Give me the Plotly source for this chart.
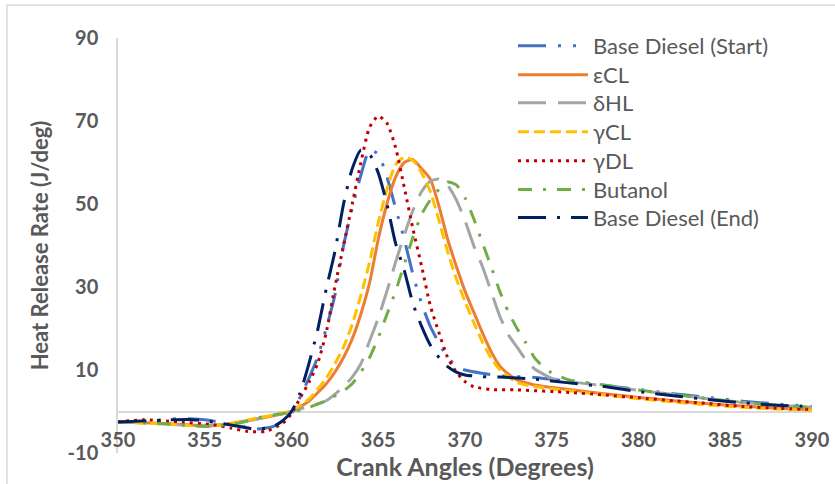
import plotly.graph_objects as go

# ---------------- data ----------------
bds_x = [350, 352, 353.5, 355, 356.5, 358, 359, 360, 360.5, 361, 361.5, 362, 362.5, 363, 363.5, 364, 364.5, 365,
         365.5, 366, 366.5, 367, 367.5, 368, 368.5, 369, 369.5, 370, 371, 372, 374, 376, 378, 380, 382, 384, 386, 388, 390]
bds_y = [-2.5, -2.2, -1.7, -2.0, -3.0, -4.2, -3.5, -0.5, 3.5, 8, 13, 20, 28, 40, 49, 57, 63, 62,
         56.5, 49, 41.5, 33, 26, 20.5, 16.5, 13, 11, 10, 9.2, 8.6, 8.2, 7.3, 6.3, 5.3, 4.3, 3.4, 2.5, 1.8, 1.2]

ecl_x = [350, 352, 354, 355, 356, 357, 358, 359, 360, 361, 362, 362.5, 363, 363.5, 364, 364.5, 365, 365.5, 366,
         366.5, 367, 367.5, 368, 368.5, 369, 369.5, 370, 370.5, 371, 371.5, 372, 372.5, 373, 374, 375, 376, 378, 380,
         382, 384, 386, 388, 390]
ecl_y = [-2.5, -2.8, -3.2, -3.5, -3.2, -2.5, -1.8, -1.0, 0, 2.5, 6.7, 9.5, 13, 17.5, 23.5, 31, 41.5, 50, 56.5,
         60, 60.7, 58.5, 56, 49.5, 41.5, 35, 29, 24, 19, 14.5, 11, 9, 7.6, 6.4, 5.8, 5.3, 4.3, 3.4, 2.6, 1.9,
         1.3, 0.8, 0.4]

dhl_x = [350, 352, 354, 356, 357, 358, 359, 360, 361, 362, 363, 363.5, 364, 364.5, 365, 365.5, 366, 366.5, 367,
         367.5, 368, 368.5, 369, 369.5, 370, 370.5, 371, 371.5, 372, 372.5, 373, 373.5, 374, 375, 376, 378, 380,
         382, 384, 386, 388, 390]
dhl_y = [-2.5, -2.8, -3.3, -3.2, -2.6, -1.8, -0.9, 0, 1.2, 2.6, 6, 8.3, 11.5, 17, 22.5, 29, 36, 42.5, 48.5,
         53, 55.5, 56, 54.5, 51, 46, 40, 35, 29, 23, 18.5, 15.5, 12.5, 10.3, 8, 7.2, 6.2, 5.1,
         4.1, 3.1, 2.2, 1.5, 1.0]

gcl_x = [350, 352, 354, 355, 356, 357, 358, 359, 360, 361, 362, 362.5, 363, 363.5, 364, 364.5, 365, 365.5, 366,
         366.5, 367, 367.5, 368, 368.5, 369, 369.5, 370, 370.5, 371, 371.5, 372, 373, 374, 375, 376, 378, 380,
         382, 384, 386, 388, 390]
gcl_y = [-2.5, -2.9, -3.3, -3.6, -3.2, -2.5, -1.6, -0.8, 0.3, 3, 8, 11.5, 15.5, 21, 28, 36, 45.5, 53.5, 59.5,
         61.3, 60.5, 57.5, 53, 46, 38.5, 32, 26.5, 21.5, 16.8, 12.9, 10.1, 7.0, 6.0, 5.5, 5.0, 4.0, 3.1,
         2.3, 1.6, 1.0, 0.6, 0.3]

gdl_x = [350, 351.5, 353.5, 355.5, 356.5, 357.5, 358.5, 359.5, 360, 360.5, 361, 361.5, 362, 362.5, 363, 363.5, 364,
         364.5, 365, 365.5, 366, 366.5, 367, 367.5, 368, 368.5, 369, 369.5, 370, 370.5, 371.5, 373, 376, 378, 380,
         382, 384, 386, 388, 390]
gdl_y = [-2.5, -2.0, -2.5, -3.2, -4.0, -4.8, -4.8, -2.8, -0.5, 3.3, 7, 11.5, 19, 30, 40, 50, 60,
         68.5, 71.2, 69.5, 63.6, 54, 44, 35, 25.5, 19, 13, 9.5, 7.2, 6.0, 5.3, 5.2, 4.6, 4.0, 3.3,
         2.6, 1.9, 1.2, 0.8, 0.5]

but_x = [350, 352, 353, 355, 357, 358, 359, 360, 361, 362, 363, 363.5, 364, 364.5, 365, 365.5, 366, 366.5, 367,
         367.5, 368, 368.5, 369, 369.5, 370, 370.5, 371, 371.5, 372, 372.5, 373, 373.5, 374, 374.5, 375, 376, 378,
         380, 382, 384, 386, 388, 390]
but_y = [-2.5, -2.8, -3.0, -3.6, -2.8, -1.6, -0.8, -0.2, 1.0, 2.6, 5.0, 6.7, 9.5, 13, 17.8, 23.4, 29, 35.5, 42,
         47.5, 51, 53.5, 55.3, 54.6, 51.5, 46.5, 40.7, 35, 29, 24, 20, 16.6, 13, 10.8, 9.3, 7.6, 6.4,
         5.2, 4.1, 3.1, 2.2, 1.5, 1.0]

bde_x = [350, 352, 353, 354, 355, 356, 357, 358, 359, 359.5, 360, 360.5, 361, 361.5, 362, 362.5, 363, 363.5, 364,
         364.5, 365, 365.5, 366, 366.5, 367, 367.5, 368, 368.5, 369, 369.5, 370, 371, 372, 374, 376, 378, 380, 382,
         384, 386, 388, 390]
bde_y = [-2.5, -2.2, -2.0, -1.9, -2.2, -2.9, -3.6, -4.3, -3.5, -2.2, 0, 4.5, 11.5, 19.5, 29.5, 38.5, 50, 58.5, 63,
         62, 57.5, 50, 40.5, 34, 26, 20.5, 16, 13, 10.8, 9.5, 8.8, 8.4, 8.3, 7.8, 6.9, 6.0, 4.8, 3.8,
         2.9, 2.1, 1.5, 1.2]

series_names = ["Base Diesel (Start)", "\u03b5CL", "\u03b4HL", "\u03b3CL", "\u03b3DL", "Butanol", "Base Diesel (End)"]
x_ticks = [350, 355, 360, 365, 370, 375, 380, 385, 390]
y_ticks = [-10, 10, 30, 50, 70, 90]

# ---------------- styles ----------------
styles = [
    dict(color="#4472C4", dash="28px,12px,3px,12px,3px,12px"),
    dict(color="#ED7D31", dash="solid"),
    dict(color="#A5A5A5", dash="28px,12px"),
    dict(color="#FFC000", dash="11px,5px"),
    dict(color="#C00000", dash="3px,5px"),
    dict(color="#70AD47", dash="14px,11px,3px,11px"),
    dict(color="#002060", dash="28px,11px,3px,11px"),
]
data = [(bds_x, bds_y), (ecl_x, ecl_y), (dhl_x, dhl_y), (gcl_x, gcl_y), (gdl_x, gdl_y), (but_x, but_y), (bde_x, bde_y)]

FONT = "Lato"
TXT = "#595959"
PLOT_TOP, PLOT_BOTTOM, PLOT_LEFT, PLOT_W = 38, 453.5, 118, 694
legend_rows_px = [46, 75, 103, 132, 161, 190, 218]

fig = go.Figure()
legend_layouts = {}
for i, ((xs, ys), name, st) in enumerate(zip(data, series_names, styles)):
    key = "legend" if i == 0 else f"legend{i + 1}"
    fig.add_trace(go.Scatter(
        x=xs, y=ys, name=name, mode="lines", legend=key,
        line=dict(color=st["color"], dash=st["dash"], width=3, shape="spline", smoothing=0.6),
    ))
    legend_layouts[key] = dict(
        x=(513 - PLOT_LEFT) / PLOT_W,
        y=(PLOT_BOTTOM - legend_rows_px[i]) / (PLOT_BOTTOM - PLOT_TOP),
        xanchor="left", yanchor="middle",
        font=dict(family=FONT, size=22, color=TXT),
        bgcolor="rgba(0,0,0,0)", itemwidth=70,
    )

fig.update_layout(
    width=835, height=484,
    margin=dict(l=PLOT_LEFT, r=23, t=PLOT_TOP, b=31),
    paper_bgcolor="white", plot_bgcolor="white",
    font=dict(family=FONT, color=TXT),
    showlegend=True,
    xaxis=dict(
        range=[350, 390], tickvals=x_ticks, ticktext=[str(v) for v in x_ticks],
        showgrid=False, zeroline=False, showline=False, ticks="",
        anchor="free", position=0.064,
        tickfont=dict(family=FONT, size=20, color=TXT, weight="bold"),
        title=dict(text="Crank Angles (Degrees)", standoff=0,
                   font=dict(family=FONT, size=25, color=TXT, weight="bold")),
        automargin=False,
    ),
    yaxis=dict(
        range=[-10, 90], tickvals=y_ticks, ticktext=[str(v) for v in y_ticks],
        showgrid=False, zeroline=True, zerolinecolor="#D9D9D9", zerolinewidth=2,
        showline=True, linecolor="#D9D9D9", linewidth=1.5, ticks="",
        ticklabelstandoff=14,
        tickfont=dict(family=FONT, size=20, color=TXT, weight="bold"),
        title=dict(text="Heat Release Rate (J/deg)", standoff=13,
                   font=dict(family=FONT, size=22, color=TXT, weight="bold")),
        automargin=False,
    ),
    shapes=[dict(type="rect", xref="paper", yref="paper",
                 x0=-0.16, x1=1.04, y0=-0.09, y1=1.079,
                 line=dict(color="#D9D9D9", width=1.5), layer="below")],
    **legend_layouts,
)

fig.write_html("out.html")
